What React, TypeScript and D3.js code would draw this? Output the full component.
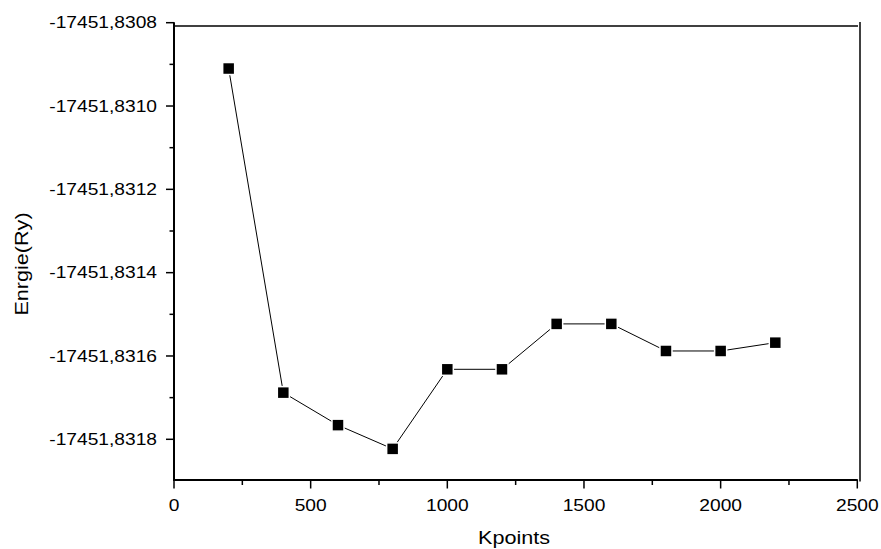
import React from "react";
import * as d3 from "d3";

const kpoints = [200, 400, 600, 800, 1000, 1200, 1400, 1600, 1800, 2000, 2200];
const energies = [
  -17451.83091, -17451.831688, -17451.831766, -17451.831823, -17451.831632,
  -17451.831632, -17451.831523, -17451.831523, -17451.831588, -17451.831588,
  -17451.831568,
];
const xMajorTicks = [0, 500, 1000, 1500, 2000, 2500];
const xMinorTicks = [250, 750, 1250, 1750, 2250];
const yMajorTicks = [-17451.8308, -17451.831, -17451.8312, -17451.8314, -17451.8316, -17451.8318];
const yMinorTicks = [-17451.8309, -17451.8311, -17451.8313, -17451.8315, -17451.8317];
const xTitle = "Kpoints";
const yTitle = "Enrgie(Ry)";

const FONT = "'Liberation Sans', Arial, sans-serif";
const LEFT = 174;
const RIGHT = 857.3;
const BOTTOM = 480;
const TOP = 22.7;

const fmtY = (v: number) => v.toFixed(4).replace(".", ",");

export default function App() {
  const x = d3.scaleLinear().domain([0, 2500]).range([LEFT, RIGHT]);
  const y = d3.scaleLinear().domain([-17451.8318, -17451.8308]).range([439.3, TOP]);
  const pts = kpoints.map((k, i) => [x(k), y(energies[i])] as [number, number]);
  const line = d3.line()(pts) || "";
  const ms = 12;

  return (
    <svg
      width={881}
      height={549}
      style={{ position: "absolute", left: 0, top: 0, background: "#fff" }}
      fontFamily={FONT}
    >
      <rect x={0} y={0} width={881} height={549} fill="#fff" />
      {/* frame top & right */}
      <line x1={LEFT} x2={858} y1={26} y2={26} stroke="#000" strokeWidth={1.5} />
      <line x1={860} x2={860} y1={22} y2={481.5} stroke="#000" strokeWidth={1.5} />
      {/* left axis */}
      <line x1={LEFT} x2={LEFT} y1={TOP - 0.5} y2={BOTTOM + 1} stroke="#000" strokeWidth={2} />
      {/* bottom axis */}
      <line x1={LEFT - 1} x2={RIGHT + 0.5} y1={BOTTOM} y2={BOTTOM} stroke="#000" strokeWidth={2} />
      {yMajorTicks.map((t) => (
        <g key={"ym" + t}>
          <line x1={LEFT - 8} x2={LEFT} y1={y(t)} y2={y(t)} stroke="#000" strokeWidth={1.5} />
          <g transform={`translate(157,${y(t) + 5.6}) scale(1.2,1)`}>
            <text x={0} y={0} fontSize={16} textAnchor="end" fill="#000">
              {fmtY(t)}
            </text>
          </g>
        </g>
      ))}
      {yMinorTicks.map((t) => (
        <line key={"yn" + t} x1={LEFT - 4.5} x2={LEFT} y1={y(t)} y2={y(t)} stroke="#000" strokeWidth={1.5} />
      ))}
      {xMajorTicks.map((t) => (
        <g key={"xm" + t}>
          <line x1={x(t)} x2={x(t)} y1={BOTTOM} y2={BOTTOM + 8.5} stroke="#000" strokeWidth={1.5} />
          <g transform={`translate(${x(t)},510.7) scale(1.2,1)`}>
            <text x={0} y={0} fontSize={16} textAnchor="middle" fill="#000">
              {t}
            </text>
          </g>
        </g>
      ))}
      {xMinorTicks.map((t) => (
        <line key={"xn" + t} x1={x(t)} x2={x(t)} y1={BOTTOM} y2={BOTTOM + 5} stroke="#000" strokeWidth={1.5} />
      ))}
      {/* axis titles */}
      <g transform={`translate(514,544) scale(1.2,1)`}>
        <text x={0} y={0} fontSize={18} textAnchor="middle" fill="#000">
          {xTitle}
        </text>
      </g>
      <g transform={`translate(28,264) rotate(-90) scale(1.2,1)`}>
        <text x={0} y={0} fontSize={18} textAnchor="middle" fill="#000">
          {yTitle}
        </text>
      </g>
      {/* data */}
      <path d={line} fill="none" stroke="#000" strokeWidth={1} />
      {pts.map(([px, py], i) => (
        <rect
          key={"p" + i}
          x={px - ms / 2}
          y={py - ms / 2}
          width={ms}
          height={ms}
          fill="#000"
          stroke="#fff"
          strokeWidth={1.5}
        />
      ))}
    </svg>
  );
}
